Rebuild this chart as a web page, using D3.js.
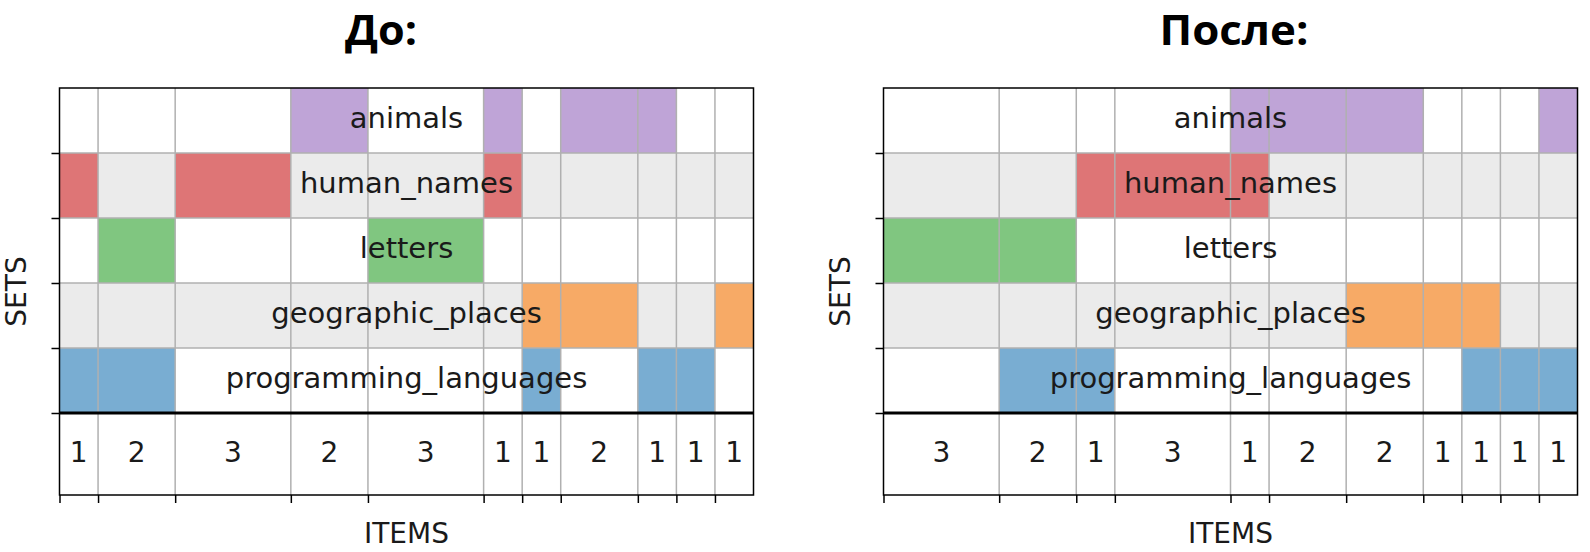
<!DOCTYPE html>
<html>
<head>
<meta charset="utf-8">
<script src="https://cdn.jsdelivr.net/npm/d3@7"></script>
<style>
  html, body { margin: 0; padding: 0; background: #fff; }
  svg { display: block; }
</style>
</head>
<body>
<svg id="chart" width="1590" height="552"></svg>
<script>
// ---------- DATA ----------
const sets = ["animals", "human_names", "letters", "geographic_places", "programming_languages"];
const setColors = ["#9467bd", "#d62728", "#2ca02c", "#ff7f0e", "#1f77b4"];

const titles = ["До:", "После:"];

// "До:" – item-group sizes and the sets each group belongs to
const beforeCounts = [1, 2, 3, 2, 3, 1, 1, 2, 1, 1, 1];
const beforeMembers = [
  ["human_names", "programming_languages"],
  ["letters", "programming_languages"],
  ["human_names"],
  ["animals"],
  ["letters"],
  ["animals", "human_names"],
  ["geographic_places", "programming_languages"],
  ["animals", "geographic_places"],
  ["animals", "programming_languages"],
  ["programming_languages"],
  ["geographic_places"]
];

// "После:"
const afterCounts = [3, 2, 1, 3, 1, 2, 2, 1, 1, 1, 1];
const afterMembers = [
  ["letters"],
  ["letters", "programming_languages"],
  ["human_names", "programming_languages"],
  ["human_names"],
  ["animals", "human_names"],
  ["animals"],
  ["animals", "geographic_places"],
  ["geographic_places"],
  ["geographic_places", "programming_languages"],
  ["programming_languages"],
  ["animals", "programming_languages"]
];

const xLabel = "ITEMS";
const yLabel = "SETS";

// ---------- LAYOUT ----------
const svg = d3.select("#chart");
const plotTop = 88, rowsBottom = 413, plotBottom = 495;
const panels = [
  { x0: 59.5, x1: 753.5, title: titles[0], titleX: 381, titleW: 72, counts: beforeCounts, members: beforeMembers },
  { x0: 883.5, x1: 1577.5, title: titles[1], titleX: 1234, titleW: 149, counts: afterCounts, members: afterMembers }
];
const color = d3.scaleOrdinal().domain(sets).range(setColors);
const gridColor = "#b0b0b0";
const font = "DejaVu Sans, sans-serif";

panels.forEach(p => {
  const total = d3.sum(p.counts);
  const starts = [];
  let acc = 0;
  p.counts.forEach(c => { starts.push(acc); acc += c; });
  const groups = p.counts.map((c, i) => ({ start: starts[i], count: c, members: p.members[i] }));

  const x = d3.scaleLinear().domain([0, total]).range([p.x0, p.x1]);
  const y = d3.scaleBand().domain(sets).range([plotTop, rowsBottom]);
  const g = svg.append("g");

  // row backgrounds
  g.selectAll("rect.row").data(sets).join("rect")
    .attr("x", x(0)).attr("width", x(total) - x(0))
    .attr("y", d => y(d)).attr("height", y.bandwidth())
    .attr("fill", (d, i) => i % 2 === 1 ? "#ebebeb" : "#ffffff");

  // membership cells
  const cells = [];
  groups.forEach(gr => gr.members.forEach(s => cells.push({ set: s, start: gr.start, count: gr.count })));
  g.selectAll("rect.cell").data(cells).join("rect")
    .attr("x", d => x(d.start)).attr("width", d => x(d.start + d.count) - x(d.start))
    .attr("y", d => y(d.set)).attr("height", y.bandwidth())
    .attr("fill", d => color(d.set)).attr("fill-opacity", 0.6);

  // grid lines
  g.selectAll("line.vg").data(starts.slice(1)).join("line")
    .attr("x1", d => x(d)).attr("x2", d => x(d))
    .attr("y1", plotTop).attr("y2", plotBottom)
    .attr("stroke", gridColor).attr("stroke-width", 1.5);
  const rowEdges = sets.slice(1).map(s => y(s));
  g.selectAll("line.hg").data(rowEdges).join("line")
    .attr("x1", x(0)).attr("x2", x(total))
    .attr("y1", d => d).attr("y2", d => d)
    .attr("stroke", gridColor).attr("stroke-width", 1.5);

  // set labels
  g.selectAll("text.set").data(sets).join("text")
    .attr("x", (x(0) + x(total)) / 2)
    .attr("y", d => y(d) + y.bandwidth() / 2)
    .attr("dy", "0.25em")
    .attr("text-anchor", "middle")
    .attr("font-family", font).attr("font-size", 29)
    .attr("fill", "#1a1a1a")
    .text(d => d);

  // counts
  g.selectAll("text.count").data(groups).join("text")
    .attr("x", d => x(d.start + d.count / 2))
    .attr("y", (rowsBottom + plotBottom) / 2)
    .attr("dy", "0.3em")
    .attr("text-anchor", "middle")
    .attr("font-family", font).attr("font-size", 28)
    .attr("fill", "#1a1a1a")
    .text(d => d.count);

  // separator line between sets and counts
  g.append("line")
    .attr("x1", x(0)).attr("x2", x(total))
    .attr("y1", rowsBottom).attr("y2", rowsBottom)
    .attr("stroke", "#000").attr("stroke-width", 3);

  // frame
  g.append("rect")
    .attr("x", x(0)).attr("y", plotTop)
    .attr("width", x(total) - x(0)).attr("height", plotBottom - plotTop)
    .attr("fill", "none").attr("stroke", "#000").attr("stroke-width", 1.5);

  // axes (ticks only)
  const xAxis = d3.axisBottom(x).tickValues(starts).tickFormat("").tickSize(8).tickSizeOuter(0);
  const gx = g.append("g").attr("transform", `translate(0,${plotBottom})`).call(xAxis);
  gx.select(".domain").remove();
  gx.selectAll(".tick line").attr("stroke", "#000").attr("stroke-width", 1.5);

  const yTickScale = d3.scaleIdentity();
  const yAxis = d3.axisLeft(yTickScale).tickValues(rowEdges.concat([rowsBottom])).tickFormat("").tickSize(8).tickSizeOuter(0);
  const gy = g.append("g").attr("transform", `translate(${x(0)},0)`).call(yAxis);
  gy.select(".domain").remove();
  gy.selectAll(".tick line").attr("stroke", "#000").attr("stroke-width", 1.5);

  // axis labels
  g.append("text")
    .attr("x", (x(0) + x(total)) / 2).attr("y", 543)
    .attr("text-anchor", "middle")
    .attr("font-family", font).attr("font-size", 28)
    .attr("fill", "#1a1a1a")
    .text(xLabel);
  g.append("text")
    .attr("transform", `translate(${x(0) - 34},${(plotTop + plotBottom) / 2}) rotate(-90)`)
    .attr("text-anchor", "middle")
    .attr("font-family", font).attr("font-size", 28)
    .attr("fill", "#1a1a1a")
    .text(yLabel);

  // title
  svg.append("text")
    .attr("x", p.titleX).attr("y", 45)
    .attr("text-anchor", "middle")
    .attr("font-family", "Open Sans, sans-serif").attr("font-weight", "bold")
    .attr("font-size", 42)
    .attr("textLength", p.titleW).attr("lengthAdjust", "spacingAndGlyphs")
    .attr("fill", "#000")
    .text(p.title);
});
</script>
</body>
</html>
